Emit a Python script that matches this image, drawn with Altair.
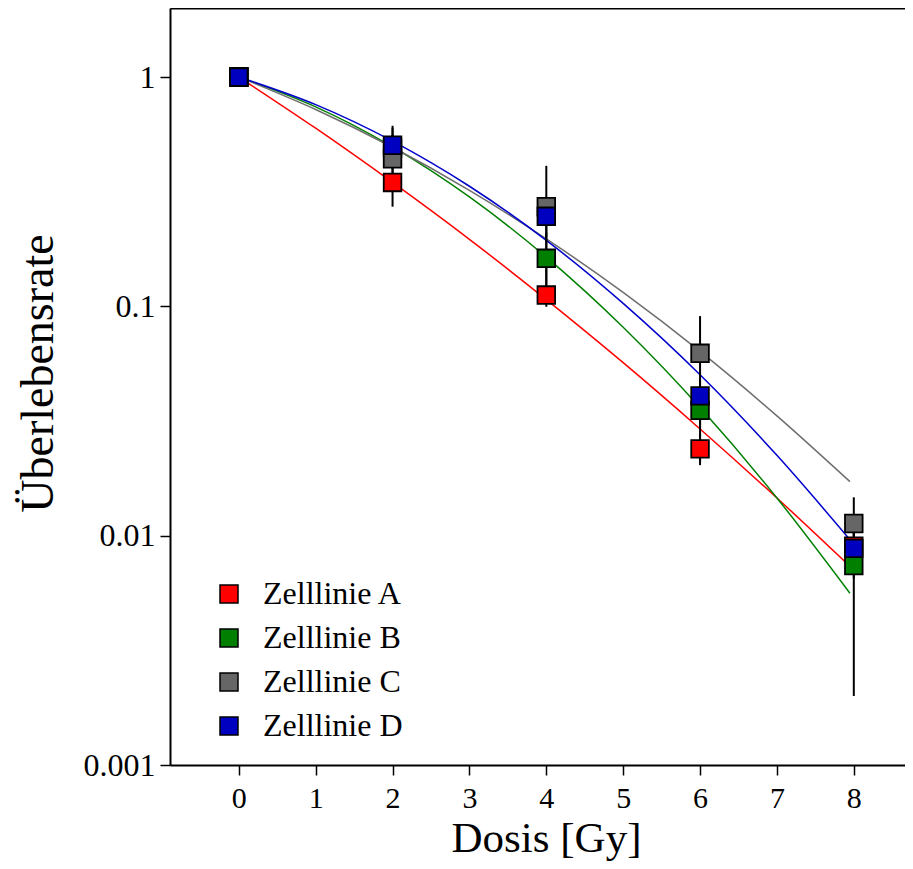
import altair as alt
import pandas as pd

# ---- data ----
series = ["Zelllinie A", "Zelllinie B", "Zelllinie C", "Zelllinie D"]
curve_ids = ["A", "B", "C", "D"]
doses = [0, 2, 4, 6, 8]

surv_A = [1.0, 0.347, 0.112, 0.0239, 0.0090]
surv_B = [1.0, 0.49, 0.162, 0.0352, 0.0074]
surv_C = [1.0, 0.44, 0.272, 0.0624, 0.0113]
surv_D = [1.0, 0.504, 0.247, 0.0407, 0.0088]

lo_A = [None, 0.272, 0.0996, 0.0203, 0.008]
hi_A = [None, 0.42, 0.125, 0.028, 0.011]
lo_B = [None, 0.40, 0.125, 0.029, 0.002]
hi_B = [None, 0.60, 0.21, 0.042, 0.0095]
lo_C = [None, 0.33, 0.105, 0.021, 0.0065]
hi_C = [None, 0.613, 0.41, 0.0907, 0.0147]
lo_D = [None, 0.45, 0.20, 0.035, 0.0075]
hi_D = [None, 0.56, 0.30, 0.048, 0.0105]

# fitted curves
fit_dose = [0, 1, 2, 3, 4, 5, 6, 7, 7.95]
fit_A = [1.0, 0.598, 0.347, 0.196, 0.107, 0.0568, 0.0292, 0.0146, 0.00735]
fit_B = [1.0, 0.741, 0.496, 0.300, 0.164, 0.0811, 0.0362, 0.0146, 0.00561]
fit_C = [1.0, 0.722, 0.494, 0.3205, 0.197, 0.115, 0.0636, 0.0333, 0.0172]
fit_D = [1.0, 0.758, 0.5255, 0.334, 0.194, 0.103, 0.0503, 0.0224, 0.0096]

x_ticks = [0, 1, 2, 3, 4, 5, 6, 7, 8]
y_ticks = [0.001, 0.01, 0.1, 1]

marker_colors = ["#ff0000", "#007f00", "#666666", "#0000c0"]
line_colors = ["#ff0000", "#008000", "#6e6e6e", "#0000cc"]

# ---- tables ----
rows = []
for k, (s, sv, lo, hi) in enumerate(zip(series,
                                        [surv_A, surv_B, surv_C, surv_D],
                                        [lo_A, lo_B, lo_C, lo_D],
                                        [hi_A, hi_B, hi_C, hi_D])):
    for d, v, l, h in zip(doses, sv, lo, hi):
        rows.append({"series": s, "order": k, "dose": d, "surv": v, "lo": l, "hi": h})
pts = pd.DataFrame(rows)
errs = pts.dropna(subset=["lo"])

lrows = []
for c, fv in zip(curve_ids, [fit_A, fit_B, fit_C, fit_D]):
    for d, v in zip(fit_dose, fv):
        lrows.append({"curve": c, "dose": d, "surv": v})
lines = pd.DataFrame(lrows)

FONT = "Liberation Serif"
x_scale = alt.Scale(domain=[-0.895, 8.666], nice=False, zero=False)
y_scale = alt.Scale(type="log", domain=[0.001, 2], nice=False)

x_axis_bottom = alt.Axis(values=x_ticks, format="d", title="Dosis [Gy]",
                         orient="bottom", tickSize=10, labelPadding=8,
                         labelFontSize=30, titleFontSize=43,
                         titleX=376, titleY=86, titleBaseline="alphabetic",
                         titleAlign="center", grid=False)
x_axis_top = alt.Axis(orient="top", labels=False, ticks=False, domain=True,
                      title=None, grid=False)
y_axis = alt.Axis(values=y_ticks, format="~g", title="Überlebensrate",
                  tickSize=10, labelPadding=5, labelFontSize=32,
                  titleFontSize=46, titleX=-118, titleY=365,
                  titleBaseline="alphabetic", titleAlign="center", grid=False)

line_layer = alt.Chart(lines).mark_line(strokeWidth=1.5, interpolate="monotone").encode(
    x=alt.X("dose:Q", scale=x_scale, axis=x_axis_bottom),
    y=alt.Y("surv:Q", scale=y_scale, axis=y_axis),
    stroke=alt.Stroke("curve:N", scale=alt.Scale(domain=curve_ids, range=line_colors),
                      legend=None),
)

rule_layer = alt.Chart(errs).mark_rule(stroke="black", strokeWidth=2).encode(
    x=alt.X("dose:Q", scale=x_scale, axis=x_axis_top),
    y=alt.Y("lo:Q", scale=y_scale, axis=y_axis),
    y2="hi:Q",
)

point_layer = alt.Chart(pts).mark_square(
    size=310, stroke="black", strokeWidth=1.8, opacity=1, filled=True).encode(
    x=alt.X("dose:Q", scale=x_scale, axis=None),
    y=alt.Y("surv:Q", scale=y_scale, axis=y_axis),
    fill=alt.Fill("series:N", scale=alt.Scale(domain=series, range=marker_colors),
                  legend=alt.Legend(title=None, orient="none", legendX=43, legendY=570,
                                    symbolType="square", symbolSize=324,
                                    symbolStrokeColor="black", symbolStrokeWidth=1.5,
                                    labelFontSize=32, labelFont=FONT, labelOffset=18,
                                    labelColor="black", rowPadding=12)),
    order=alt.Order("order:Q"),
)

chart = alt.layer(line_layer, rule_layer, point_layer).resolve_axis(
    x="independent").properties(
    width=735, height=757,
    padding={"left": 162, "top": 0, "right": 0, "bottom": 96},
    autosize=alt.AutoSizeParams(type="none"),
).configure_view(stroke=None).configure_axis(
    domainColor="black", domainWidth=2, tickColor="black", tickWidth=1.5,
    labelColor="black", titleColor="black", labelFont=FONT, titleFont=FONT,
    titleFontWeight="normal",
).configure_legend(labelFont=FONT, labelFontSize=32, labelColor="black")

chart.save("out.html", embed_options={"renderer": "svg", "actions": False})
